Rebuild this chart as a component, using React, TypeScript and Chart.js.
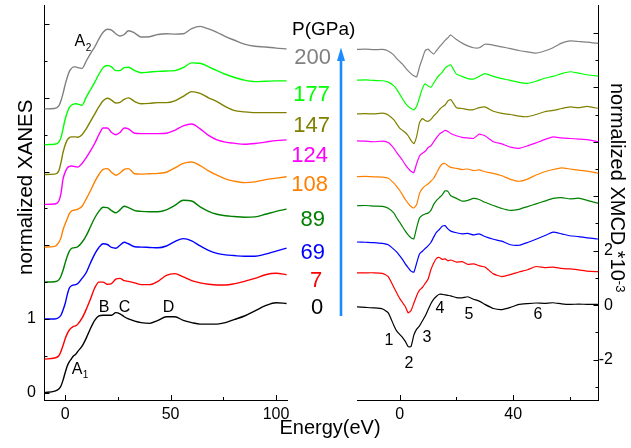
import React, { useEffect, useRef } from 'react';
import { Chart, registerables } from 'chart.js';

Chart.register(...registerables);

const FONT = '"Liberation Sans", Arial, Helvetica, sans-serif';

// ---------- series meta ----------
const pressures = ['0', '7', '69', '89', '108', '124', '147', '177', '200'];
const colors = ['#000000', '#ff0000', '#0000ff', '#008000', '#ff8000', '#ff00ff', '#808000', '#00ff00', '#808080'];

// ---------- XANES (stacked, normalized) ----------
const xanesEnergy = [-10, -5, -3, -2, -1, 0, 1, 2, 3, 4, 5, 6, 8, 10, 12, 14, 16, 18, 20, 22, 24, 26, 28, 30, 33, 36, 40, 44, 48, 52, 56, 60, 64, 68, 72, 76, 80, 85, 90, 95, 100, 105];
const xanes0 = [0.0, 0.02, 0.05, 0.09, 0.17, 0.27, 0.36, 0.42, 0.46, 0.5, 0.52, 0.56, 0.63, 0.74, 0.87, 0.98, 1.04, 1.05, 1.05, 1.05, 1.085, 1.07, 1.03, 1.0, 0.97, 0.95, 0.94, 0.98, 1.03, 1.03, 0.98, 0.95, 0.93, 0.93, 0.93, 0.95, 0.99, 1.04, 1.11, 1.18, 1.22, 1.21];
const xanes7 = [0.455, 0.47, 0.5, 0.56, 0.64, 0.73, 0.8, 0.85, 0.88, 0.9, 0.905, 0.93, 1.01, 1.13, 1.27, 1.42, 1.5, 1.5, 1.47, 1.48, 1.54, 1.55, 1.52, 1.51, 1.49, 1.465, 1.465, 1.51, 1.59, 1.615, 1.57, 1.52, 1.49, 1.47, 1.46, 1.46, 1.475, 1.51, 1.55, 1.6, 1.62, 1.6];
const xanes69 = [1.0, 1.0, 1.02, 1.05, 1.12, 1.21, 1.33, 1.42, 1.45, 1.46, 1.465, 1.48, 1.55, 1.63, 1.76, 1.88, 1.97, 2.02, 2.01, 1.97, 1.96, 2.0, 2.04, 2.02, 1.98, 1.975, 1.97, 1.965, 1.99, 2.05, 2.09, 2.06, 1.99, 1.93, 1.89, 1.87, 1.86, 1.85, 1.85, 1.88, 1.92, 1.96];
const xanes89 = [1.5, 1.505, 1.53, 1.58, 1.66, 1.76, 1.85, 1.92, 1.955, 1.965, 1.97, 1.98, 2.04, 2.13, 2.25, 2.37, 2.46, 2.515, 2.51, 2.47, 2.44, 2.48, 2.53, 2.51, 2.47, 2.46, 2.455, 2.455, 2.48, 2.54, 2.61, 2.6, 2.52, 2.46, 2.42, 2.4, 2.39, 2.38, 2.385, 2.42, 2.46, 2.49];
const xanes108 = [1.975, 1.985, 2.04, 2.1, 2.21, 2.29, 2.36, 2.43, 2.465, 2.475, 2.48, 2.49, 2.53, 2.63, 2.74, 2.86, 2.96, 3.03, 3.04, 2.99, 2.95, 2.98, 3.03, 3.04, 2.97, 2.965, 2.97, 2.975, 2.99, 3.05, 3.11, 3.13, 3.08, 3.01, 2.95, 2.9, 2.87, 2.85, 2.86, 2.89, 2.91, 2.93];
const xanes124 = [2.555, 2.56, 2.6, 2.7, 2.9, 2.99, 3.05, 3.07, 3.075, 3.07, 3.065, 3.06, 3.11, 3.19, 3.28, 3.38, 3.5, 3.59, 3.59, 3.53, 3.5, 3.53, 3.59, 3.58, 3.52, 3.515, 3.515, 3.515, 3.52, 3.56, 3.62, 3.645, 3.58, 3.49, 3.43, 3.4, 3.385, 3.37, 3.38, 3.4, 3.42, 3.43];
const xanes147 = [2.96, 2.965, 3.01, 3.12, 3.26, 3.36, 3.43, 3.46, 3.47, 3.47, 3.47, 3.465, 3.5, 3.58, 3.68, 3.78, 3.88, 3.96, 3.995, 3.97, 3.93, 3.94, 3.98, 4.0, 3.95, 3.92, 3.925, 3.935, 3.935, 3.96, 4.02, 4.085, 4.06, 4.0, 3.95, 3.88, 3.83, 3.81, 3.8, 3.8, 3.8, 3.8];
const xanes177 = [3.365, 3.37, 3.4, 3.46, 3.58, 3.71, 3.8, 3.87, 3.9, 3.915, 3.92, 3.915, 3.9, 4.01, 4.11, 4.21, 4.32, 4.41, 4.44, 4.42, 4.37, 4.37, 4.41, 4.415, 4.37, 4.34, 4.35, 4.36, 4.365, 4.37, 4.41, 4.475, 4.47, 4.42, 4.37, 4.32, 4.28, 4.24, 4.22, 4.225, 4.23, 4.23];
const xanes200 = [3.85, 3.855, 3.89, 3.96, 4.06, 4.18, 4.28, 4.36, 4.4, 4.42, 4.42, 4.41, 4.4, 4.5, 4.6, 4.69, 4.8, 4.89, 4.93, 4.92, 4.87, 4.84, 4.86, 4.91, 4.88, 4.825, 4.83, 4.86, 4.87, 4.865, 4.87, 4.94, 4.97, 4.935, 4.89, 4.83, 4.785, 4.73, 4.7, 4.69, 4.675, 4.665];
const xanesSeries = [xanes0, xanes7, xanes69, xanes89, xanes108, xanes124, xanes147, xanes177, xanes200];

// ---------- XMCD (stacked, x1e-3) ----------
const xmcdEnergy = [-15, -12, -9, -6, -4, -2, -1, 0, 1, 2, 3, 4, 5, 6, 7, 8, 9, 10, 11, 12, 13, 14, 15, 16, 17, 18, 20, 22, 24, 26, 28, 30, 33, 36, 39, 42, 45, 48, 51, 54, 57, 60, 63, 66, 70];
const xmcd0 = [-0.06, -0.08, -0.1, -0.14, -0.28, -0.75, -0.95, -1.07, -1.18, -1.33, -1.52, -1.52, -1.1, -0.88, -0.76, -0.58, -0.4, -0.17, 0.05, 0.22, 0.33, 0.4, 0.4, 0.38, 0.36, 0.34, 0.28, 0.27, 0.31, 0.22, 0.15, 0.03, -0.12, -0.16, -0.08, 0.03, 0.06, 0.08, 0.07, 0.09, 0.05, 0.03, 0.04, 0.03, 0.03];
const xmcd7 = [1.19, 1.19, 1.19, 1.17, 1.05, 0.65, 0.45, 0.25, 0.1, -0.05, -0.28, -0.2, 0.07, 0.35, 0.55, 0.65, 0.8, 0.95, 1.3, 1.55, 1.72, 1.75, 1.68, 1.7, 1.63, 1.66, 1.58, 1.6, 1.5, 1.52, 1.45, 1.4, 1.15, 1.05, 1.12, 1.22, 1.3, 1.42, 1.38, 1.4, 1.35, 1.33, 1.3, 1.25, 1.23];
const xmcd69 = [2.32, 2.31, 2.3, 2.27, 2.22, 2.05, 1.95, 1.82, 1.68, 1.52, 1.38, 1.25, 1.21, 1.55, 1.88, 1.98, 2.08, 2.18, 2.3, 2.5, 2.68, 2.78, 2.9, 2.92, 2.8, 2.72, 2.66, 2.62, 2.64, 2.58, 2.62, 2.52, 2.42, 2.35, 2.22, 2.2, 2.3, 2.42, 2.55, 2.68, 2.62, 2.55, 2.52, 2.47, 2.43];
const xmcd89 = [3.65, 3.66, 3.64, 3.63, 3.56, 3.38, 3.2, 3.05, 2.88, 2.72, 2.58, 2.48, 2.43, 2.85, 3.2, 3.3, 3.35, 3.38, 3.48, 3.7, 3.85, 3.95, 4.05, 4.2, 4.18, 4.02, 3.92, 3.82, 3.85, 3.92, 3.88, 3.78, 3.66, 3.55, 3.48, 3.52, 3.62, 3.72, 3.82, 3.92, 3.95, 3.9, 3.93, 3.85, 3.74];
const xmcd108 = [4.72, 4.73, 4.71, 4.7, 4.66, 4.48, 4.35, 4.22, 4.05, 3.88, 3.74, 3.62, 3.57, 3.7, 4.1, 4.28, 4.38, 4.45, 4.55, 4.66, 4.85, 5.05, 5.18, 5.2, 5.12, 5.06, 5.02, 4.98, 5.0, 4.94, 4.97, 4.9, 4.84, 4.75, 4.62, 4.55, 4.63, 4.78, 4.9, 4.98, 5.04, 5.0, 4.96, 4.92, 4.84];
const xmcd124 = [6.03, 6.02, 6.0, 6.02, 5.97, 5.76, 5.6, 5.46, 5.32, 5.16, 5.02, 4.92, 4.87, 5.2, 5.48, 5.58, 5.65, 5.78, 5.85, 6.0, 6.15, 6.28, 6.35, 6.42, 6.38, 6.3, 6.22, 6.16, 6.14, 6.12, 6.28, 6.22, 6.0, 5.92, 5.8, 5.76, 5.85, 5.96, 6.08, 6.18, 6.14, 6.12, 6.1, 6.08, 6.0];
const xmcd147 = [7.02, 7.03, 7.02, 7.05, 6.98, 6.8, 6.65, 6.5, 6.42, 6.34, 6.22, 6.05, 5.93, 6.2, 6.7, 6.85, 6.78, 6.75, 6.82, 6.95, 7.05, 7.18, 7.28, 7.35, 7.5, 7.55, 7.25, 7.22, 7.18, 7.18, 7.25, 7.28, 7.12, 7.04, 7.0, 6.94, 6.92, 7.0, 7.1, 7.15, 7.22, 7.28, 7.25, 7.3, 7.22];
const xmcd177 = [8.26, 8.27, 8.25, 8.24, 8.19, 8.05, 7.92, 7.75, 7.58, 7.42, 7.3, 7.22, 7.17, 7.3, 7.62, 7.95, 8.13, 8.05, 8.0, 8.15, 8.32, 8.45, 8.55, 8.7, 8.78, 8.82, 8.48, 8.4, 8.32, 8.3, 8.4, 8.5, 8.4, 8.32, 8.25, 8.18, 8.14, 8.22, 8.33, 8.4, 8.5, 8.57, 8.52, 8.46, 8.41];
const xmcd200 = [9.39, 9.4, 9.38, 9.39, 9.33, 9.18, 9.05, 8.95, 8.85, 8.72, 8.6, 8.5, 8.42, 8.38, 8.75, 9.05, 9.35, 9.4, 9.3, 9.22, 9.35, 9.48, 9.6, 9.72, 9.82, 9.92, 9.75, 9.62, 9.52, 9.45, 9.45, 9.58, 9.55, 9.48, 9.42, 9.35, 9.3, 9.25, 9.33, 9.45, 9.62, 9.7, 9.68, 9.66, 9.61];
const xmcdSeries = [xmcd0, xmcd7, xmcd69, xmcd89, xmcd108, xmcd124, xmcd147, xmcd177, xmcd200];

// ---------- ticks ----------
const xanesXTicks = [0, 25, 50, 75, 100];
const xanesXMajor = [0, 50, 100];
const xanesYTicks = [0, 0.5, 1, 1.5, 2, 2.5, 3, 3.5, 4, 4.5, 5];
const xanesYMajor = [0, 1, 2, 3, 4, 5];
const xanesYLabels = [0, 1];
const xmcdXTicks = [0, 20, 40, 60];
const xmcdXMajor = [0, 40];
const xmcdYTicks = [-3, -2, -1, 0, 1, 2, 3, 4, 5, 6, 7, 8, 9, 10];
const xmcdYMajor = [-2, 0, 2, 4, 6, 8, 10];
const xmcdYLabels = [-2, 0, 2];

// ---------- annotations ----------
const xanesNotes = [
  { text: 'A', sub: '2', x: 7.0, y: 4.76 },
  { text: 'A', sub: '1', x: 5.6, y: 0.315 },
  { text: 'B', x: 18.4, y: 1.156 },
  { text: 'C', x: 28.1, y: 1.156 },
  { text: 'D', x: 49.0, y: 1.156 },
];
const xmcdNotes = [
  { text: '1', x: -3.73, y: -1.31 },
  { text: '2', x: 3.31, y: -2.14 },
  { text: '3', x: 9.64, y: -1.2 },
  { text: '4', x: 14.2, y: -0.14 },
  { text: '5', x: 24.4, y: -0.36 },
  { text: '6', x: 48.7, y: -0.36 },
];

// layout of the pressure labels (right edge, vertical centre), order matches pressures
const pressureLabelPos = [
  { r: 323.3, cy: 306.7 },
  { r: 322.3, cy: 280 },
  { r: 325, cy: 251.7 },
  { r: 325, cy: 218.3 },
  { r: 328, cy: 183.3 },
  { r: 328, cy: 155 },
  { r: 330, cy: 125 },
  { r: 330, cy: 93.3 },
  { r: 331, cy: 56.7 },
];

const inwardTicks = {
  id: 'inwardTicks',
  afterDatasetsDraw(chart: any, _a: any, opts: any) {
    const { ctx, chartArea } = chart;
    const { left, right, bottom } = chartArea;
    ctx.save();
    ctx.strokeStyle = '#000';
    ctx.lineWidth = 1;
    ctx.beginPath();
    const xs = chart.scales.x;
    for (const t of xs.ticks) {
      const p = Math.round(xs.getPixelForValue(t.value)) + 0.5;
      const len = opts.xMajor.includes(t.value) ? 5 : 3;
      ctx.moveTo(p, bottom);
      ctx.lineTo(p, bottom - len);
    }
    const ys = chart.scales.y;
    const onLeft = ys.position === 'left';
    for (const t of ys.ticks) {
      const p = Math.round(ys.getPixelForValue(t.value)) + 0.5;
      const len = opts.yMajor.includes(t.value) ? 5 : 3;
      if (onLeft) {
        ctx.moveTo(left, p);
        ctx.lineTo(left + len, p);
      } else {
        ctx.moveTo(right, p);
        ctx.lineTo(right - len, p);
      }
    }
    ctx.stroke();
    ctx.restore();
  },
};

const notesPlugin = {
  id: 'notes',
  afterDatasetsDraw(chart: any, _a: any, opts: any) {
    const items = opts.items || [];
    const { ctx } = chart;
    const xs = chart.scales.x;
    const ys = chart.scales.y;
    ctx.save();
    ctx.fillStyle = '#000';
    ctx.textBaseline = 'middle';
    for (const it of items) {
      const px = xs.getPixelForValue(it.x);
      const py = ys.getPixelForValue(it.y);
      ctx.font = `16px ${FONT}`;
      ctx.textAlign = 'center';
      ctx.fillText(it.text, px, py);
      if (it.sub) {
        const w = ctx.measureText(it.text).width;
        ctx.font = `10px ${FONT}`;
        ctx.textAlign = 'left';
        ctx.fillText(it.sub, px + w / 2 + 0.5, py + 6);
      }
    }
    ctx.restore();
  },
};

function zeroPad(s: any) {
  s.paddingLeft = 0;
  s.paddingRight = 0;
  s.paddingTop = 0;
  s.paddingBottom = 0;
}

function makeConfig(opts: {
  energy: number[];
  series: number[][];
  width: number;
  xMin: number; xMax: number; yMin: number; yMax: number;
  xTicks: number[]; xMajor: number[]; xLabels: number[];
  yTicks: number[]; yMajor: number[]; yLabels: number[];
  yPos: 'left' | 'right';
  yWidth: number;
  padding: any;
  yTickPadding: number;
  notes: any[];
  lineWidth: number;
  tension: number;
  monotone: boolean;
}): any {
  const tickFont = { family: FONT, size: 16 };
  return {
    type: 'line',
    data: {
      datasets: opts.series.map((vals, i) => ({
        label: pressures[i] + ' GPa',
        data: opts.energy.map((e, j) => ({ x: e, y: vals[j] })),
        borderColor: colors[i],
        backgroundColor: colors[i],
        borderWidth: opts.lineWidth,
        pointRadius: 0,
        fill: false,
        tension: opts.tension,
        cubicInterpolationMode: opts.monotone ? 'monotone' : 'default',
      })),
    },
    options: {
      animation: false,
      responsive: false,
      maintainAspectRatio: false,
      devicePixelRatio: 1,
      events: [],
      layout: { padding: opts.padding },
      plugins: {
        legend: { display: false },
        tooltip: { enabled: false },
        title: { display: false },
        inwardTicks: { xMajor: opts.xMajor, yMajor: opts.yMajor },
        notes: { items: opts.notes },
      },
      scales: {
        x: {
          type: 'linear',
          min: opts.xMin,
          max: opts.xMax,
          position: 'bottom',
          afterBuildTicks: (s: any) => { s.ticks = opts.xTicks.map((v) => ({ value: v })); },
          afterFit: (s: any) => { s.height = 48; zeroPad(s); },
          grid: { display: false, drawTicks: false },
          border: { display: true, color: '#000', width: 1 },
          ticks: {
            font: tickFont,
            color: '#000',
            padding: 5,
            maxRotation: 0,
            autoSkip: false,
            callback: (v: any) => (opts.xLabels.includes(v) ? String(v) : ''),
          },
        },
        y: {
          type: 'linear',
          min: opts.yMin,
          max: opts.yMax,
          position: opts.yPos,
          afterBuildTicks: (s: any) => { s.ticks = opts.yTicks.map((v) => ({ value: v })); },
          afterFit: (s: any) => { s.width = opts.yWidth; zeroPad(s); },
          grid: { display: false, drawTicks: false },
          border: { display: true, color: '#000', width: 1 },
          ticks: {
            font: tickFont,
            color: '#000',
            padding: opts.yTickPadding,
            autoSkip: false,
            crossAlign: opts.yPos === 'right' ? 'far' : 'near',
            callback: (v: any) => (opts.yLabels.includes(v) ? String(v) : ''),
          },
        },
      },
    },
    plugins: [inwardTicks, notesPlugin],
  };
}

export default function App() {
  const leftRef = useRef<HTMLCanvasElement>(null);
  const rightRef = useRef<HTMLCanvasElement>(null);

  useEffect(() => {
    const left = new Chart(
      leftRef.current as HTMLCanvasElement,
      makeConfig({
        energy: xanesEnergy,
        series: xanesSeries,
        width: 300,
        xMin: -9.8, xMax: 105.2, yMin: -0.1, yMax: 5.26,
        xTicks: xanesXTicks, xMajor: xanesXMajor, xLabels: xanesXMajor,
        yTicks: xanesYTicks, yMajor: xanesYMajor, yLabels: xanesYLabels,
        yPos: 'left',
        yWidth: 44.5,
        padding: { left: 0, top: 5, right: 13, bottom: 0 },
        yTickPadding: 8.5,
        notes: xanesNotes,
        lineWidth: 1.4,
        tension: 0.4,
        monotone: true,
      }),
    );
    const right = new Chart(
      rightRef.current as HTMLCanvasElement,
      makeConfig({
        energy: xmcdEnergy,
        series: xmcdSeries,
        width: 331,
        xMin: -15, xMax: 70, yMin: -3.48, yMax: 11.02,
        xTicks: xmcdXTicks, xMajor: xmcdXMajor, xLabels: xmcdXMajor,
        yTicks: xmcdYTicks, yMajor: xmcdYMajor, yLabels: xmcdYLabels,
        yPos: 'right',
        yWidth: 14.5,
        padding: { left: 57, top: 5, right: 18, bottom: 0 },
        yTickPadding: 4,
        notes: xmcdNotes,
        lineWidth: 1.2,
        tension: 0.15,
        monotone: false,
      }),
    );
    return () => {
      left.destroy();
      right.destroy();
    };
  }, []);

  return (
    <div
      style={{
        position: 'absolute',
        left: 0,
        top: 0,
        width: 631,
        height: 448,
        overflow: 'hidden',
        background: '#fff',
        fontFamily: FONT,
        color: '#000',
      }}
    >
      <canvas
        ref={leftRef}
        width={300}
        height={448}
        style={{ position: 'absolute', left: 0, top: 0, width: 300, height: 448 }}
      />
      <canvas
        ref={rightRef}
        width={331}
        height={448}
        style={{ position: 'absolute', left: 300, top: 0, width: 331, height: 448 }}
      />
      <svg
        width={631}
        height={448}
        style={{ position: 'absolute', left: 0, top: 0, pointerEvents: 'none' }}
      >
        <line x1={341} y1={316} x2={341} y2={58} stroke="#1a8cff" strokeWidth={2.6} />
        <polygon points="341,47.5 337,61 345,61" fill="#1a8cff" />
      </svg>
      <div
        style={{
          position: 'absolute', left: 292, top: 19, fontSize: 19, lineHeight: '19px', whiteSpace: 'nowrap',
        }}
      >
        P(GPa)
      </div>
      {pressures.map((p, i) => (
        <div
          key={p}
          style={{
            position: 'absolute',
            left: pressureLabelPos[i].r - 60,
            width: 60,
            top: pressureLabelPos[i].cy - 10.75,
            textAlign: 'right',
            fontSize: 22,
            lineHeight: '22px',
            color: colors[i],
            whiteSpace: 'nowrap',
          }}
        >
          {p}
        </div>
      ))}
      <div
        style={{
          position: 'absolute', left: 15.3, top: 275, fontSize: 20.5, lineHeight: '20.5px',
          whiteSpace: 'nowrap', transformOrigin: 'left top', transform: 'rotate(-90deg)',
        }}
      >
        normalized XANES
      </div>
      <div
        style={{
          position: 'absolute', left: 630.4, top: 83, fontSize: 20, lineHeight: '20px',
          whiteSpace: 'nowrap', transformOrigin: 'left top', transform: 'rotate(90deg)',
        }}
      >
        normalized XMCD *10
        <span style={{ fontSize: 13, verticalAlign: 5 }}>-3</span>
      </div>
      <div
        style={{
          position: 'absolute', left: 230, width: 200, top: 417.4, fontSize: 20, lineHeight: '20px',
          textAlign: 'center', whiteSpace: 'nowrap',
        }}
      >
        Energy(eV)
      </div>
    </div>
  );
}
